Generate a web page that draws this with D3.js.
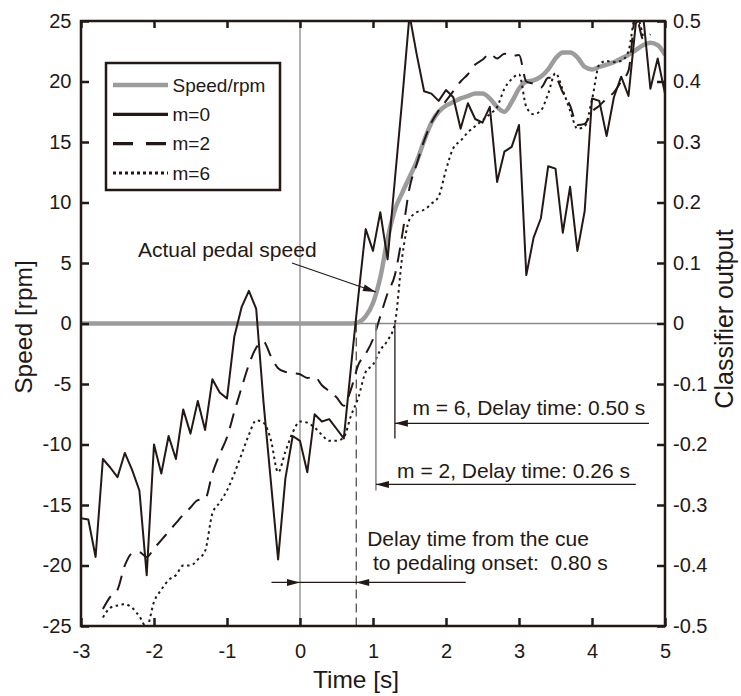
<!DOCTYPE html>
<meta charset="utf-8">
<style>
    body { margin: 0; background: #fff; }
    text { font-family: "Liberation Sans", Arial, sans-serif; fill: #231815; }
    .axis text { font-size: 20px; }
    .axis line { stroke: #231815; stroke-width: 2.5px; }
    .axis path { display: none; }
    .note { font-size: 21px; white-space: pre; }
    .legend text { font-size: 19px; }
</style>
<svg width="741" height="696"></svg>
<script src="https://cdn.jsdelivr.net/npm/d3@7"></script>
<script>
    // time base [s], one sample every 0.1 s
    var time = [-3.0,-2.9,-2.8,-2.7,-2.6,-2.5,-2.4,-2.3,-2.2,-2.1,-2.0,-1.9,-1.8,-1.7,-1.6,-1.5,-1.4,-1.3,-1.2,-1.1,
        -1.0,-0.9,-0.8,-0.7,-0.6,-0.5,-0.4,-0.3,-0.2,-0.1,0.0,0.1,0.2,0.3,0.4,0.5,0.6,0.7,0.8,0.9,
        1.0,1.1,1.2,1.3,1.4,1.5,1.6,1.7,1.8,1.9,2.0,2.1,2.2,2.3,2.4,2.5,2.6,2.7,2.8,2.9,
        3.0,3.1,3.2,3.3,3.4,3.5,3.6,3.7,3.8,3.9,4.0,4.1,4.2,4.3,4.4,4.5,4.6,4.7,4.8,4.9,5.0];

    // actual pedal speed [rpm], left axis
    var speed = [0,0,0,0,0,0,0,0,0,0,0,0,0,0,0,0,0,0,0,0,
        0,0,0,0,0,0,0,0,0,0,0,0,0,0,0,0,0,0,0.1,0.6,
        1.7,3.8,7.0,9.4,10.8,12.1,13.4,15.1,16.6,17.5,18.0,18.3,18.6,18.8,19.0,19.0,18.6,17.9,17.5,18.3,
        19.4,20.0,20.1,20.4,21.0,21.9,22.4,22.4,22.0,21.2,21.0,21.2,21.4,21.6,21.9,22.2,22.6,23.0,23.2,23.0,22.2];

    // classifier output, right axis
    var m0 = [-0.322,-0.324,-0.386,-0.224,-0.238,-0.254,-0.214,-0.242,-0.276,-0.416,-0.200,-0.248,-0.186,-0.224,-0.142,-0.182,-0.128,-0.176,-0.092,-0.114,
        -0.124,-0.022,0.027,0.054,0.024,-0.130,-0.260,-0.390,-0.256,-0.186,-0.194,-0.246,-0.150,-0.162,-0.158,-0.174,-0.190,-0.070,0.046,0.156,
        0.120,0.184,0.106,0.238,0.370,0.510,0.444,0.384,0.380,0.368,0.386,0.374,0.322,0.364,0.338,0.332,0.358,0.234,0.284,0.292,
        0.328,0.080,0.142,0.174,0.260,0.256,0.150,0.226,0.120,0.186,0.372,0.368,0.310,0.374,0.408,0.376,0.496,0.510,0.388,0.438,0.380];

    var m2 = [null,null,null,-0.472,-0.452,-0.440,-0.400,-0.380,-0.378,-0.386,-0.372,-0.358,-0.344,-0.330,-0.316,-0.304,-0.292,-0.290,-0.248,-0.216,
        -0.188,-0.146,-0.106,-0.068,-0.040,-0.030,-0.054,-0.074,-0.080,-0.082,-0.084,-0.090,-0.088,-0.102,-0.112,-0.122,-0.136,-0.108,-0.068,-0.050,
        -0.026,0.012,0.050,0.080,0.146,0.224,0.264,0.302,0.332,0.352,0.368,0.384,0.400,0.412,0.428,0.436,0.446,0.438,0.446,0.442,
        0.444,0.400,0.396,0.390,0.406,0.406,0.382,0.360,0.328,0.330,0.350,0.360,0.372,0.382,0.400,0.418,0.510,0.470,0.478,null,null];

    var m6 = [null,null,null,-0.486,-0.470,-0.466,-0.464,-0.470,-0.484,-0.502,-0.460,-0.440,-0.424,-0.416,-0.400,-0.400,-0.390,-0.376,-0.314,-0.296,
        -0.276,-0.248,-0.216,-0.184,-0.160,-0.164,-0.192,-0.246,-0.212,-0.180,-0.162,-0.164,-0.172,-0.184,-0.194,-0.194,-0.188,-0.152,-0.122,-0.080,
        -0.068,-0.044,-0.028,0.000,0.110,0.172,0.184,0.188,0.198,0.210,0.254,0.290,0.302,0.316,0.326,0.336,0.346,0.358,0.388,0.404,
        0.412,0.358,0.346,0.352,0.380,0.414,0.386,0.352,0.322,0.326,0.370,0.428,0.434,0.432,0.434,0.450,0.510,0.474,null,null,null];

    var timeTicks = [-3,-2,-1,0,1,2,3,4,5];
    var speedTicks = [-25,-20,-15,-10,-5,0,5,10,15,20,25];
    var classTicks = [-0.5,-0.4,-0.3,-0.2,-0.1,0,0.1,0.2,0.3,0.4,0.5];
    var legendLabels = ["Speed/rpm", "m=0", "m=2", "m=6"];

    var ink = "#231815";

    var svg = d3.select("svg"),
        margin = {top: 21, right: 76, bottom: 70, left: 81},
        width = +svg.attr("width") - margin.left - margin.right,
        height = +svg.attr("height") - margin.top - margin.bottom;

    var x = d3.scaleLinear().domain([-3, 5]).range([0, width]);
    var y = d3.scaleLinear().domain([-25, 25]).range([height, 0]);
    var y2 = d3.scaleLinear().domain([-0.5, 0.5]).range([height, 0]);

    var g = svg.append("g").attr("transform", "translate(" + margin.left + "," + margin.top + ")");

    svg.append("defs").append("clipPath").attr("id", "plot")
        .append("rect").attr("width", width).attr("height", height);

    // zero lines
    g.append("line").attr("x1", x(0)).attr("x2", x(0)).attr("y1", 0).attr("y2", height)
        .attr("stroke", "#8a8a8a").attr("stroke-width", 1.3);
    g.append("line").attr("x1", 0).attr("x2", width).attr("y1", y(0)).attr("y2", y(0))
        .attr("stroke", "#8a8a8a").attr("stroke-width", 1.3);

    function series(values) {
        return time.map(function(t, i) { return {t: t, v: values[i]}; });
    }

    var lines = g.append("g").attr("clip-path", "url(#plot)");

    lines.append("path")
        .datum(series(speed))
        .attr("fill", "none")
        .attr("stroke", "#9c9c9c")
        .attr("stroke-width", 4.5)
        .attr("d", d3.line()
            .curve(d3.curveMonotoneX)
            .x(function(d) { return x(d.t); })
            .y(function(d) { return y(d.v); }));

    var classLine = function(curve) {
        return d3.line()
            .defined(function(d) { return d.v !== null; })
            .curve(curve)
            .x(function(d) { return x(d.t); })
            .y(function(d) { return y2(d.v); });
    };

    lines.append("path")
        .datum(series(m0))
        .attr("fill", "none")
        .attr("stroke", ink)
        .attr("stroke-width", 2)
        .attr("stroke-linejoin", "round")
        .attr("d", classLine(d3.curveLinear));

    lines.append("path")
        .datum(series(m2))
        .attr("fill", "none")
        .attr("stroke", ink)
        .attr("stroke-width", 2)
        .attr("stroke-dasharray", "15,9")
        .attr("d", classLine(d3.curveMonotoneX));

    lines.append("path")
        .datum(series(m6))
        .attr("fill", "none")
        .attr("stroke", ink)
        .attr("stroke-width", 2)
        .attr("stroke-dasharray", "2.5,3.5")
        .attr("d", classLine(d3.curveMonotoneX));

    // axes, ticks pointing inward
    var fmt = function(d) { return String(d); };

    g.append("g").attr("class", "axis")
        .call(d3.axisLeft(y).tickValues(speedTicks).tickSize(-8).tickPadding(9.5).tickFormat(fmt));

    g.append("g").attr("class", "axis")
        .attr("transform", "translate(" + width + ",0)")
        .call(d3.axisRight(y2).tickValues(classTicks).tickSize(-8).tickPadding(8).tickFormat(fmt));

    g.append("g").attr("class", "axis")
        .attr("transform", "translate(0," + height + ")")
        .call(d3.axisBottom(x).tickValues(timeTicks).tickSize(-8).tickPadding(18).tickFormat(fmt));

    g.append("g").attr("class", "axis")
        .call(d3.axisTop(x).tickValues(timeTicks).tickSize(-7).tickFormat(""));

    g.append("rect")
        .attr("width", width).attr("height", height)
        .attr("fill", "none").attr("stroke", ink).attr("stroke-width", 2.5);

    svg.append("text")
        .attr("x", 356).attr("y", 688)
        .attr("text-anchor", "middle")
        .style("font-size", "24.5px")
        .text("Time [s]");

    svg.append("text")
        .attr("transform", "translate(32,327) rotate(-90)")
        .attr("text-anchor", "middle")
        .style("font-size", "24.5px")
        .text("Speed [rpm]");

    svg.append("text")
        .attr("transform", "translate(733,319) rotate(-90)")
        .attr("text-anchor", "middle")
        .style("font-size", "25px")
        .text("Classifier output");

    // annotations
    function arrowHead(x0, y0, x1, y1) {
        var a = Math.atan2(y1 - y0, x1 - x0), len = 13, w = 3.5;
        var bx = x1 - len * Math.cos(a), by = y1 - len * Math.sin(a);
        g.append("path")
            .attr("d", "M" + x1 + "," + y1 +
                "L" + (bx + w * Math.sin(a)) + "," + (by - w * Math.cos(a)) +
                "L" + (bx - w * Math.sin(a)) + "," + (by + w * Math.cos(a)) + "Z")
            .attr("fill", ink);
    }

    function seg(t1, v1, t2, v2, color, w, dash) {
        g.append("line")
            .attr("x1", x(t1)).attr("y1", y(v1))
            .attr("x2", x(t2)).attr("y2", y(v2))
            .attr("stroke", color).attr("stroke-width", w)
            .attr("stroke-dasharray", dash || null);
    }

    function note(t, v, s) {
        g.append("text").attr("class", "note")
            .attr("x", x(t)).attr("y", y(v))
            .text(s);
    }

    // onset and detection markers
    seg(0.77, 0, 0.77, -25, ink, 1, "9,5");
    seg(1.04, 0, 1.04, -13.8, "#8a8a8a", 1.6);
    seg(1.30, 0, 1.30, -9.5, ink, 1.3);

    note(-2.22, 5.5, "Actual pedal speed");
    seg(-0.11, 5.0, 1.04, 2.6, ink, 1.2);
    arrowHead(x(-0.11), y(5.0), x(1.04), y(2.6));

    note(1.54, -7.6, "m = 6, Delay time: 0.50 s");
    seg(1.30, -8.25, 4.78, -8.25, ink, 1.2);
    arrowHead(x(4.78), y(-8.25), x(1.30), y(-8.25));

    note(1.33, -12.8, "m = 2, Delay time: 0.26 s");
    seg(1.04, -13.3, 4.60, -13.3, ink, 1.2);
    arrowHead(x(4.60), y(-13.3), x(1.04), y(-13.3));

    note(0.92, -18.4, "Delay time from the cue");
    note(1.0, -20.4, "to pedaling onset:  0.80 s");
    seg(-0.39, -21.4, 2.27, -21.4, ink, 1.2);
    arrowHead(x(-0.39), y(-21.4), x(0), y(-21.4));
    arrowHead(x(2.27), y(-21.4), x(0.77), y(-21.4));

    // legend
    var legend = svg.append("g").attr("class", "legend").attr("transform", "translate(106,63)");
    legend.append("rect")
        .attr("width", 174).attr("height", 127)
        .attr("fill", "#fff").attr("stroke", ink).attr("stroke-width", 2.5);

    var legendStyle = [
        {color: "#9c9c9c", w: 4.5, dash: null},
        {color: ink, w: 3.3, dash: null},
        {color: ink, w: 3.3, dash: "20,13"},
        {color: ink, w: 3, dash: "3,3"}
    ];

    var item = legend.selectAll(".item")
        .data(legendLabels)
        .enter().append("g")
        .attr("transform", function(d, i) { return "translate(0," + (22 + i * 29.3) + ")"; });

    item.append("line")
        .attr("x1", 7).attr("x2", 62)
        .attr("stroke", function(d, i) { return legendStyle[i].color; })
        .attr("stroke-width", function(d, i) { return legendStyle[i].w; })
        .attr("stroke-dasharray", function(d, i) { return legendStyle[i].dash; });

    item.append("text")
        .attr("x", 66.5).attr("dy", "0.35em")
        .text(function(d) { return d; });
</script>
